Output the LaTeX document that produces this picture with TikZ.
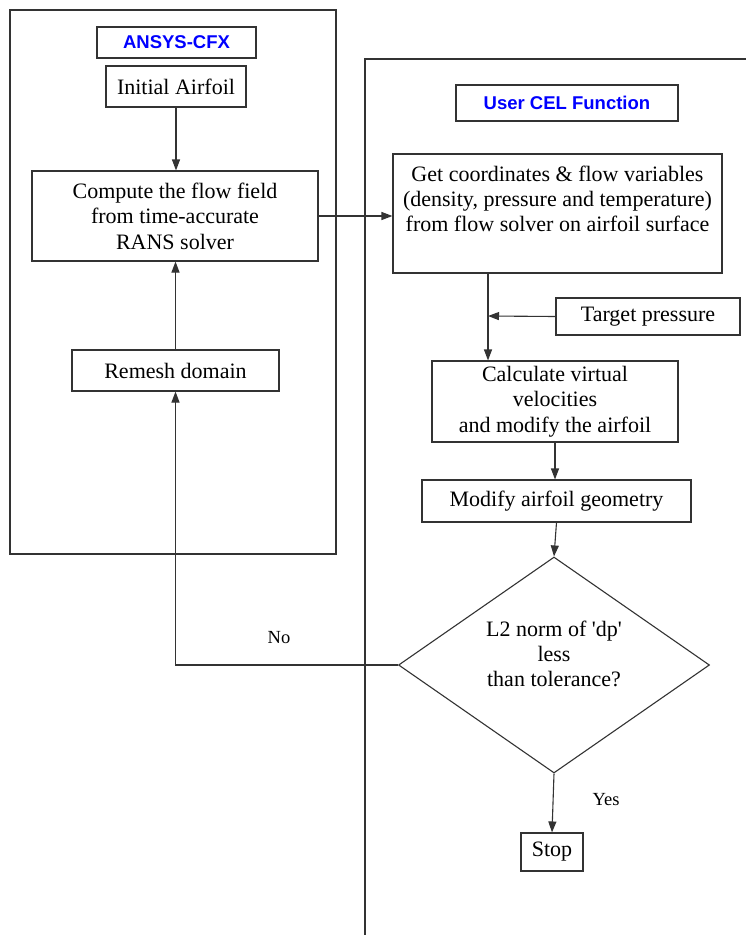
\documentclass[tikz,border=0pt]{standalone}
\usepackage{fontspec}
\setmainfont{Liberation Serif}
\setsansfont{Liberation Sans}
\usetikzlibrary{shapes.geometric,arrows.meta}
\begin{document}
\begin{tikzpicture}[x=1pt,y=-1pt,
  ln/.style={draw=black!80,line width=1.1pt},
  box/.style={ln,rectangle,inner sep=0pt,align=center,font=\fontsize{22}{25.5}\selectfont},
  txt/.style={inner sep=0pt,align=center,font=\fontsize{22}{25}\selectfont},
  ttl/.style={box,text=blue,font=\sffamily\bfseries\fontsize{18.5}{22}\selectfont},
  lbl/.style={inner sep=0pt,font=\fontsize{18.5}{22}\selectfont},
  arr/.style={ln,-{Triangle[length=11pt,width=8pt]}}]
\fill[white] (0,0) rectangle (746,935);
\useasboundingbox (0,0) rectangle (746,935);
% frames
\draw[ln] (10,10) rectangle (336,554);
\draw[ln] (365,935) -- (365,59) -- (746,59);
% left column
\node[ttl,minimum width=159pt,minimum height=31pt] (ansys) at (176.5,42.5) {ANSYS-CFX};
\node[box,minimum width=140pt,minimum height=41pt] (initial) at (176,86.5) {Initial Airfoil};
\node[box,minimum width=286pt,minimum height=90pt] (compute) at (175,216) {Compute the flow field\\from time-accurate\\RANS solver};
\node[box,minimum width=207pt,minimum height=41pt] (remesh) at (175.5,370.5) {Remesh domain};
% right column
\node[ttl,minimum width=222pt,minimum height=36pt] (cel) at (567,103) {User CEL Function};
\node[box,minimum width=329pt,minimum height=119pt] (get) at (557.5,213.5) {};
\node[txt] (gettext) at (557.5,199) {Get coordinates \& flow variables\\(density, pressure and temperature)\\from flow solver on airfoil surface};
\node[box,minimum width=184pt,minimum height=37pt] (target) at (648,316.5) {Target pressure};
\node[box,minimum width=246pt,minimum height=81pt] (calc) at (555,401.5) {Calculate virtual\\velocities\\and modify the airfoil};
\node[box,minimum width=269pt,minimum height=42pt] (modify) at (556.5,501) {Modify airfoil geometry};
\node[ln,diamond,inner sep=0pt,minimum width=311pt,minimum height=216pt] (dia) at (554,665) {};
\node[txt] (diatext) at (554,654) {L2 norm of \textquotesingle dp\textquotesingle\\less\\than tolerance?};
\node[box,minimum width=62pt,minimum height=38pt] (stop) at (552,852) {Stop};
\node[lbl] (no) at (279,638) {No};
\node[lbl] (yes) at (606,800) {Yes};
\coordinate (j) at (488,316);
% connectors
\draw[arr] (initial.south) -- (initial.south |- compute.north);
\draw[arr] (remesh.north) -- (remesh.north |- compute.south);
\draw[arr] (compute.east) -- (compute.east -| get.west);
\draw[arr] (j |- get.south) -- (j |- calc.north);
\draw[arr] (target.west) -- (j);
\draw[arr] (calc.south) -- (calc.south |- modify.north);
\draw[arr] (modify.south) -- (dia.north);
\draw[arr] (dia.south) -- (stop.north);
\draw[arr] (dia.west) -| (remesh.south);
\end{tikzpicture}
\end{document}
